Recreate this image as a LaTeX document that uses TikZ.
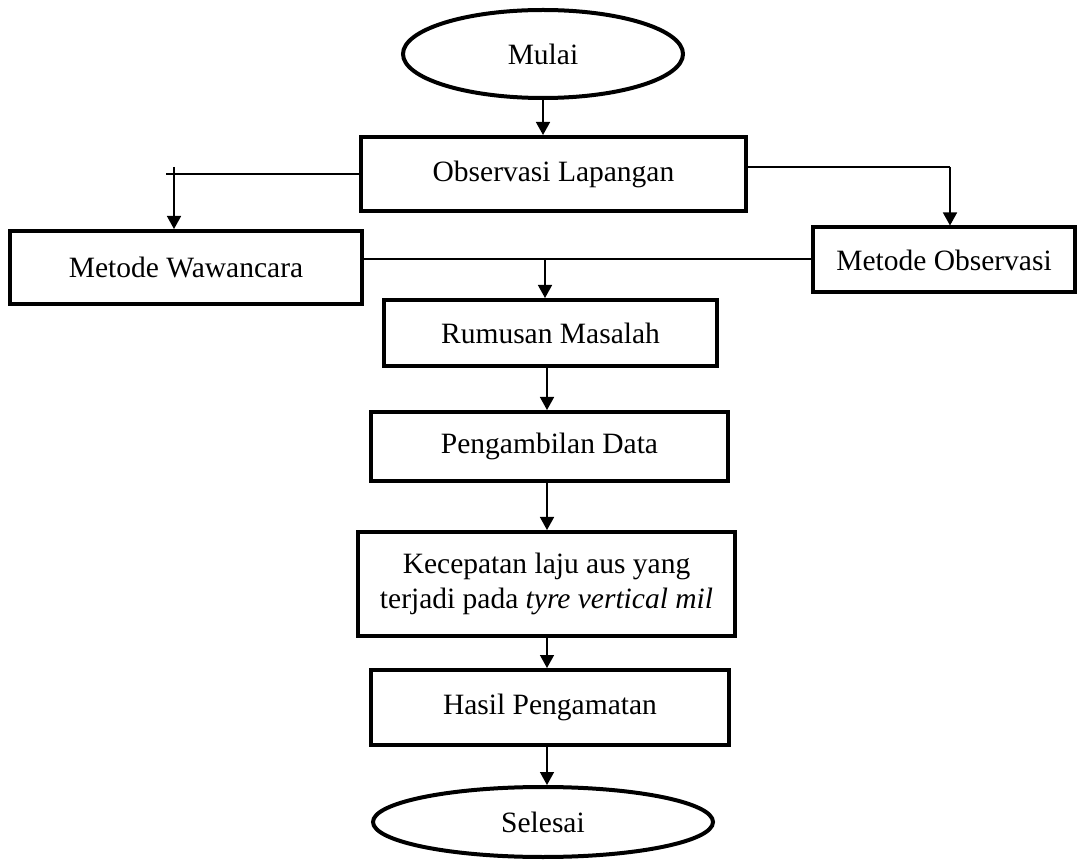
\documentclass[tikz,border=0pt]{standalone}
\usepackage{fontspec}
\setmainfont{Liberation Serif}
\usetikzlibrary{shapes.geometric,arrows.meta}
\begin{document}
\begin{tikzpicture}[x=1pt,y=-1pt,
  txt/.style={font=\fontsize{29.5}{35}\selectfont, align=center, inner sep=0pt},
  stepbox/.style={txt, draw, line width=4pt, rectangle},
  term/.style={txt, draw, line width=4pt, ellipse},
  conn/.style={line width=1.5pt},
  arr/.style={conn, -{Triangle[length=13pt,width=14pt]}}]
\useasboundingbox (0,0) rectangle (1077,866);
\node[term, minimum width=280, minimum height=88] (mulai) at (543,54) {Mulai};
\node[stepbox, minimum width=385, minimum height=74] (obs) at (553.5,174) {Observasi Lapangan};
\node[stepbox, minimum width=352, minimum height=73] (waw) at (186,267.5) {Metode Wawancara};
\node[stepbox, minimum width=262, minimum height=65] (mobs) at (944,260) {Metode Observasi};
\node[stepbox, minimum width=333, minimum height=66] (rum) at (550.5,333) {Rumusan Masalah};
\node[stepbox, minimum width=357, minimum height=69] (peng) at (549.5,446.5) {Pengambilan Data};
\node[stepbox, minimum width=377, minimum height=104] (kec) at (546.5,584) {Kecepatan laju aus yang\\terjadi pada \textit{tyre vertical mil}};
\node[stepbox, minimum width=358, minimum height=75] (hasil) at (550,707.5) {Hasil Pengamatan};
\node[term, minimum width=340, minimum height=70] (sel) at (543,822) {Selesai};
% connectors
\draw[arr] (mulai.south) -- (mulai.south |- obs.north);
\coordinate (wlend) at (166,174);
\coordinate (wtop) at (174,167);
\draw[conn] (obs.west) -- (wlend);
\draw[arr] (wtop) -- (wtop |- waw.north);
\coordinate (oright) at (950,167);
\draw[conn] (obs.east |- oright) -- (oright);
\draw[arr] (oright) -- (oright |- mobs.north);
\coordinate (mid) at (545,259);
\draw[conn] (waw.east |- mid) -- (mobs.west |- mid);
\draw[arr] (mid) -- (mid |- rum.north);
\coordinate (c2) at (547,0);
\draw[arr] (c2 |- rum.south) -- (c2 |- peng.north);
\draw[arr] (c2 |- peng.south) -- (c2 |- kec.north);
\draw[arr] (c2 |- kec.south) -- (c2 |- hasil.north);
\draw[arr] (c2 |- hasil.south) -- (c2 |- sel.north);
\end{tikzpicture}
\end{document}
